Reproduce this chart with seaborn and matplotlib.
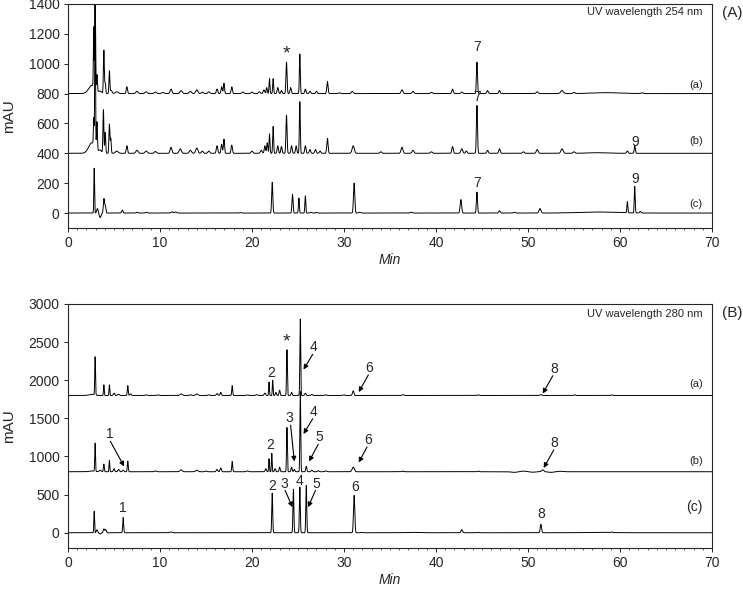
import numpy as np
import seaborn as sns
import matplotlib.pyplot as plt
from matplotlib.ticker import MultipleLocator

sns.set_style("ticks")
plt.rcParams["font.family"] = ["Liberation Sans", "DejaVu Sans"]

# peak tables: (retention time min, height mAU, width min)
# panel A, UV 254 nm
A_a = [(2.6, 55, 0.35), (2.8, 400, 0.04), (2.95, 700, 0.04), (3.15, 110, 0.05), (3.5, 15, 0.15),
       (3.9, 290, 0.05), (4.05, 70, 0.05), (4.5, 150, 0.05), (4.7, 20, 0.1), (5.3, 12, 0.15),
       (6.4, 45, 0.07), (7.5, 15, 0.12), (8.5, 12, 0.12), (9.5, 10, 0.12), (10.3, 8, 0.12),
       (11.2, 30, 0.1), (12.3, 20, 0.12), (13.3, 15, 0.12), (14.0, 25, 0.12), (14.6, 10, 0.1),
       (15.3, 12, 0.1), (16.2, 30, 0.08), (16.7, 45, 0.07), (16.95, 70, 0.06), (17.8, 45, 0.07),
       (19.0, 10, 0.1), (20.0, 10, 0.1), (20.8, 12, 0.1), (21.3, 25, 0.08), (21.6, 40, 0.06),
       (21.9, 100, 0.05), (22.3, 100, 0.05), (22.8, 40, 0.07), (23.2, 20, 0.07), (23.75, 210, 0.06),
       (24.2, 40, 0.07), (25.2, 265, 0.05), (25.8, 30, 0.07), (26.3, 15, 0.08), (27.0, 15, 0.08),
       (28.2, 80, 0.07), (29.5, 5, 0.1), (30.9, 15, 0.1), (36.3, 25, 0.1), (37.5, 15, 0.1),
       (39.5, 8, 0.1), (41.8, 30, 0.08), (42.8, 10, 0.1), (44.45, 210, 0.06), (45.6, 20, 0.08),
       (46.9, 20, 0.08), (51.0, 12, 0.1), (53.7, 20, 0.15), (55.0, 8, 0.1), (58.5, 6, 1.5),
       (62.4, 5, 0.1)]
A_b = [(2.6, 70, 0.35), (2.8, 180, 0.04), (2.95, 1100, 0.04), (3.15, 190, 0.05), (3.5, 20, 0.15),
       (3.85, 290, 0.05), (4.05, 140, 0.05), (4.5, 195, 0.05), (4.65, 100, 0.05), (5.3, 15, 0.15),
       (6.4, 50, 0.07), (7.5, 20, 0.12), (8.5, 15, 0.12), (9.5, 12, 0.12), (11.2, 40, 0.1),
       (12.2, 30, 0.12), (13.3, 20, 0.12), (14.0, 35, 0.12), (14.6, 15, 0.1), (15.3, 15, 0.1),
       (16.2, 50, 0.08), (16.7, 60, 0.07), (16.95, 95, 0.06), (17.8, 55, 0.07), (20.0, 15, 0.1),
       (21.0, 20, 0.1), (21.4, 50, 0.07), (21.65, 70, 0.06), (21.9, 130, 0.05), (22.3, 180, 0.05),
       (22.8, 50, 0.07), (23.2, 45, 0.07), (23.75, 255, 0.06), (24.3, 50, 0.07), (24.8, 50, 0.07),
       (25.2, 345, 0.05), (25.8, 50, 0.07), (26.3, 25, 0.08), (26.9, 25, 0.08), (27.4, 15, 0.08),
       (28.2, 100, 0.07), (31.0, 50, 0.12), (34.0, 10, 0.1), (36.3, 40, 0.1), (37.5, 20, 0.1),
       (39.5, 10, 0.1), (41.8, 45, 0.08), (42.8, 30, 0.1), (43.3, 15, 0.08), (44.45, 320, 0.06),
       (45.6, 20, 0.08), (46.9, 30, 0.08), (49.5, 10, 0.1), (51.0, 25, 0.1), (53.7, 30, 0.12),
       (55.0, 10, 0.1), (57.5, 4, 1.0), (60.8, 15, 0.08), (61.6, 50, 0.06)]
A_c = [(2.85, 300, 0.04), (3.2, 30, 0.08), (3.5, -30, 0.1), (3.9, 95, 0.06), (4.05, 50, 0.06),
       (5.9, 20, 0.07), (7.5, 5, 0.1), (8.5, 5, 0.1), (11.3, 8, 0.1), (11.7, 8, 0.1), (18.7, 3, 0.1),
       (22.2, 205, 0.06), (24.4, 125, 0.06), (25.1, 100, 0.05), (25.8, 115, 0.05), (26.4, 5, 0.08),
       (27.0, 5, 0.08), (31.1, 200, 0.07), (31.7, 5, 0.1), (37.3, 5, 0.1), (42.7, 90, 0.08),
       (44.45, 140, 0.06), (46.9, 15, 0.08), (48.5, 5, 0.1), (51.3, 30, 0.1), (57.5, 7, 2.0),
       (60.8, 75, 0.05), (61.6, 177, 0.05), (62.2, 10, 0.08)]

# panel B, UV 280 nm
B_a = [(2.6, 15, 0.3), (2.95, 500, 0.04), (3.9, 140, 0.04), (4.5, 140, 0.04), (5.0, 30, 0.07),
       (5.5, 15, 0.1), (6.5, 130, 0.05), (6.8, 20, 0.08), (8.5, 8, 0.1), (9.8, 8, 0.1),
       (12.3, 20, 0.12), (13.3, 10, 0.1), (14.0, 20, 0.12), (15.3, 8, 0.1), (16.2, 25, 0.08),
       (16.6, 40, 0.07), (17.85, 130, 0.05), (19.5, 8, 0.1), (20.5, 10, 0.1), (21.4, 30, 0.08),
       (21.85, 175, 0.04), (22.25, 200, 0.04), (22.6, 40, 0.06), (23.0, 70, 0.06), (23.8, 600, 0.045),
       (24.3, 40, 0.06), (25.25, 1000, 0.045), (25.8, 30, 0.07), (26.5, 15, 0.08), (28.0, 10, 0.1),
       (30.0, 8, 0.1), (31.0, 60, 0.08), (36.4, 10, 0.1), (44.6, 8, 0.08), (51.4, 10, 0.1),
       (55.1, 8, 0.08), (59.1, 8, 0.08)]
B_b = [(2.6, 10, 0.3), (2.95, 370, 0.04), (3.5, 20, 0.1), (3.9, 100, 0.05), (4.5, 150, 0.04),
       (5.0, 40, 0.07), (5.5, 30, 0.08), (6.0, 20, 0.08), (6.5, 140, 0.05), (9.5, 10, 0.1),
       (12.3, 25, 0.12), (14.0, 20, 0.12), (15.0, 10, 0.1), (16.2, 30, 0.08), (16.6, 50, 0.07),
       (17.85, 135, 0.05), (19.5, 10, 0.1), (21.5, 40, 0.07), (21.85, 170, 0.04), (22.15, 240, 0.04),
       (22.5, 40, 0.06), (23.0, 60, 0.06), (23.8, 580, 0.045), (24.3, 60, 0.06), (24.6, 30, 0.06),
       (25.25, 1050, 0.045), (25.9, 70, 0.06), (26.5, 20, 0.08), (27.2, 15, 0.08), (28.0, 10, 0.1),
       (31.0, 60, 0.12), (36.4, 8, 0.1), (44.6, 8, 0.08), (48.5, -8, 0.3), (49.5, 8, 0.3),
       (50.5, -6, 0.3), (51.6, 25, 0.12), (52.5, -8, 0.3), (53.5, 6, 0.3)]
B_c = [(2.85, 280, 0.04), (3.15, 40, 0.07), (3.5, -15, 0.1), (3.9, 50, 0.07), (4.1, 40, 0.07),
       (6.0, 200, 0.05), (11.2, 10, 0.1), (22.2, 520, 0.05), (24.5, 570, 0.05), (25.2, 600, 0.05),
       (25.9, 620, 0.05), (31.1, 490, 0.07), (31.9, 5, 0.1), (37.3, 5, 0.6), (42.8, 40, 0.08),
       (44.6, 5, 0.08), (51.4, 110, 0.07), (57.5, 5, 1.5), (59.1, 8, 0.08)]

offsets_A = [800, 400, 0]
offsets_B = [1800, 800, 0]
trace_names = ["(a)", "(b)", "(c)"]

t = np.arange(0, 70.001, 0.005)


def trace(peaks, base):
    y = np.full_like(t, float(base))
    for rt, h, w in peaks:
        y += h * np.exp(-0.5 * ((t - rt) / w) ** 2)
    return y


fig = plt.figure(figsize=(7.43, 5.9), dpi=100)
ax1 = fig.add_axes([0.0915, 0.6136, 0.8668, 0.3797])
ax2 = fig.add_axes([0.0915, 0.0712, 0.8668, 0.4136])

for peaks, base in zip([A_a, A_b, A_c], offsets_A):
    sns.lineplot(x=t, y=trace(peaks, base), ax=ax1, color="black", lw=0.7, estimator=None)
for peaks, base in zip([B_a, B_b, B_c], offsets_B):
    sns.lineplot(x=t, y=trace(peaks, base), ax=ax2, color="black", lw=0.7, estimator=None)

ax1.set_ylim(-100, 1400)
ax1.yaxis.set_major_locator(MultipleLocator(200))
ax2.set_ylim(-200, 3000)
ax2.yaxis.set_major_locator(MultipleLocator(500))

for ax in (ax1, ax2):
    ax.set_xlim(0, 70)
    ax.xaxis.set_major_locator(MultipleLocator(10))
    ax.xaxis.set_minor_locator(MultipleLocator(1))
    ax.tick_params(which="major", length=3, width=0.7, labelsize=10, pad=3)
    ax.tick_params(which="minor", length=1.5, width=0.5)
    for s in ax.spines.values():
        s.set_visible(True)
        s.set_linewidth(0.8)
    ax.set_xlabel("Min", fontstyle="italic", fontsize=10, labelpad=2)
    ax.set_ylabel("mAU", fontsize=11, labelpad=9)

# panel A texts
ax1.text(69, 1345, "UV wavelength 254 nm", ha="right", va="center", fontsize=8)
fig.text(0.972, 0.978, "(A)", ha="left", va="center", fontsize=11)
for name, yv in zip(trace_names, [860, 480, 60]):
    ax1.text(69, yv, name, ha="right", va="center", fontsize=8)
ax1.text(23.75, 1065, "*", ha="center", va="center", fontsize=14)
ax1.text(44.45, 1115, "7", ha="center", va="center", fontsize=10)
ax1.text(44.45, 780, "7", ha="center", va="center", fontsize=10)
ax1.text(44.45, 200, "7", ha="center", va="center", fontsize=10)
ax1.text(61.6, 475, "9", ha="center", va="center", fontsize=10)
ax1.text(61.6, 230, "9", ha="center", va="center", fontsize=10)

# panel B texts
ax2.text(69, 2870, "UV wavelength 280 nm", ha="right", va="center", fontsize=8)
fig.text(0.972, 0.47, "(B)", ha="left", va="center", fontsize=11)
for name, yv in zip(trace_names, [1950, 945, 335]):
    ax2.text(69, yv, name, ha="right", va="center", fontsize=8 if name != "(c)" else 10)
ax2.text(23.8, 2500, "*", ha="center", va="center", fontsize=14)
ax2.text(22.1, 2090, "2", ha="center", va="center", fontsize=10)
ax2.text(22.0, 1145, "2", ha="center", va="center", fontsize=10)
ax2.text(22.2, 610, "2", ha="center", va="center", fontsize=10)
ax2.text(25.2, 675, "4", ha="center", va="center", fontsize=10)
ax2.text(31.2, 600, "6", ha="center", va="center", fontsize=10)
ax2.text(6.0, 320, "1", ha="center", va="center", fontsize=10)
ax2.text(51.4, 250, "8", ha="center", va="center", fontsize=10)

arrow = dict(arrowstyle="-|>", lw=0.8, color="black", mutation_scale=7, shrinkA=0, shrinkB=0)
arrows_B = [
    ("4", (26.7, 2430), (25.6, 2140)),
    ("6", (32.75, 2160), (31.6, 1845)),
    ("8", (52.8, 2150), (51.6, 1825)),
    ("1", (4.5, 1290), (6.1, 870)),
    ("3", (24.1, 1500), (24.6, 935)),
    ("4", (26.7, 1585), (25.6, 1295)),
    ("5", (27.3, 1250), (26.2, 935)),
    ("6", (32.6, 1215), (31.6, 920)),
    ("8", (52.9, 1175), (51.7, 850)),
    ("3", (23.5, 645), (24.4, 335)),
    ("5", (27.0, 645), (26.1, 335)),
]
for lab, xytext, xy in arrows_B:
    ax2.annotate("", xy=xy, xytext=(xytext[0] - 0.1 * np.sign(xytext[0] - xy[0]), xytext[1] - 90),
                 arrowprops=arrow)
    ax2.text(xytext[0], xytext[1], lab, ha="center", va="center", fontsize=10)

fig.savefig("out.png", dpi=100)
